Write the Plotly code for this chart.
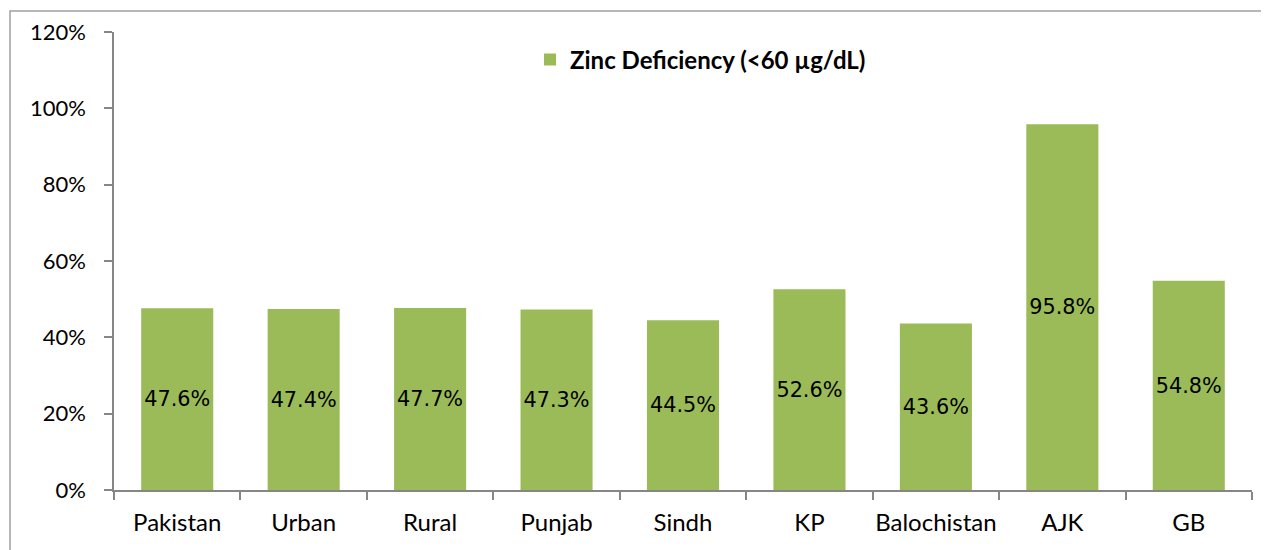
import plotly.graph_objects as go

categories = ["Pakistan", "Urban", "Rural", "Punjab", "Sindh", "KP", "Balochistan", "AJK", "GB"]
zinc_deficiency = [47.6, 47.4, 47.7, 47.3, 44.5, 52.6, 43.6, 95.8, 54.8]
series_name = "Zinc Deficiency (<60 µg/dL)"
y_ticks = [0, 20, 40, 60, 80, 100, 120]
y_tick_labels = [f"{v}%" for v in y_ticks]

OFF = 8  # page body margin
W, H = 1269 - OFF, 550 - OFF
ml, mr, mt, mb = 114 - OFF, 17, 32 - OFF, 60
pw = W - ml - mr
ph = H - mt - mb

fig = go.Figure()
fig.add_trace(go.Bar(
    x=categories,
    y=zinc_deficiency,
    name=series_name,
    marker=dict(color="#9BBB59", line=dict(width=0)),
    texttemplate="%{y:.1f}%",
    textposition="inside",
    insidetextanchor="middle",
    textangle=0,
    textfont=dict(family="DejaVu Sans", size=23, color="black"),
    showlegend=True,
))

axis_color = "#868686"
fig.update_layout(
    width=W, height=H,
    margin=dict(l=ml, r=mr, t=mt, b=mb, pad=0, autoexpand=False),
    paper_bgcolor="white",
    plot_bgcolor="white",
    bargap=0.43,
    font=dict(family="Lato", size=24, color="black"),
    legend=dict(
        x=(530 - 114) / pw, y=(490 - 60) / ph,
        xanchor="left", yanchor="middle",
        font=dict(family="Lato", size=24, color="black", weight="bold"),
        bgcolor="rgba(0,0,0,0)",
        itemwidth=30,
    ),
    xaxis=dict(
        showline=True, linecolor=axis_color, linewidth=1.5,
        ticks="outside", tickson="boundaries", ticklen=8, tickcolor=axis_color, tickwidth=1.5,
        showgrid=False, zeroline=False, tickangle=0, automargin=False,
        tickfont=dict(family="Lato", size=24, color="black"),
        ticklabelstandoff=10,
    ),
    yaxis=dict(
        range=[0, 120], tickvals=y_ticks, ticktext=y_tick_labels,
        showline=True, linecolor=axis_color, linewidth=1.5,
        ticks="outside", ticklen=8, tickcolor=axis_color, tickwidth=1.5,
        showgrid=False, zeroline=False, automargin=False,
        tickfont=dict(family="Lato", size=22, color="black"),
        ticklabelstandoff=14,
    ),
    shapes=[dict(
        type="rect", xref="paper", yref="paper",
        x0=(10 - 114) / pw, x1=(1300 - 114) / pw,
        y0=-(600 - 490) / ph, y1=1 + (32 - 11) / ph,
        line=dict(color="#A0A0A0", width=1.5), fillcolor="rgba(0,0,0,0)", layer="below",
    )],
)

fig.write_html("out.html")
